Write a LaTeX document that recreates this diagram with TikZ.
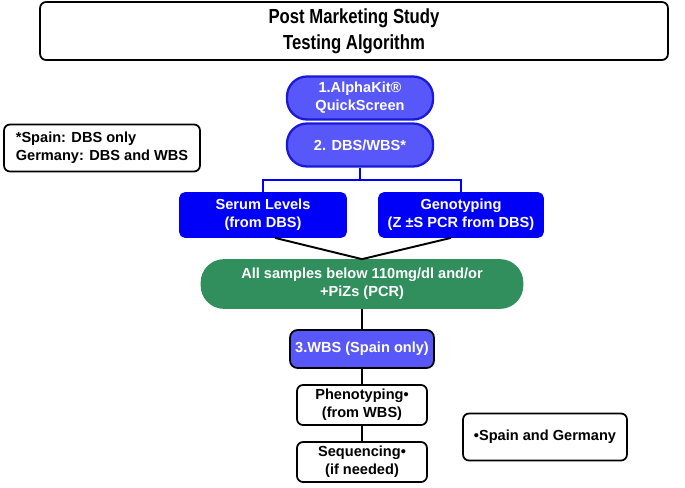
\documentclass[tikz,border=0pt]{standalone}
\usepackage{fontspec}
\setmainfont{Liberation Sans}
\newfontfamily\narrowfont[FakeStretch=0.82]{Liberation Sans}
\usepackage{xcolor}
\usetikzlibrary{calc}

\definecolor{kitblue}{RGB}{88,88,250}
\definecolor{kitedge}{RGB}{25,25,215}
\definecolor{testblue}{RGB}{0,0,250}
\definecolor{poolgreen}{RGB}{48,143,92}

\begin{document}
\begin{tikzpicture}[x=0.02cm, y=-0.02cm, line width=1pt,
    font=\fontsize{8.3}{10.2}\selectfont\bfseries]

  \tikzset{kit/.style={draw=kitedge, fill=kitblue, text=white, rounded corners=0.4cm,
                       minimum width=2.92cm, minimum height=0.86cm, align=center, inner sep=1pt,
                       line width=1.3pt},
           test/.style={draw=testblue, fill=testblue, text=white, rounded corners=0.1cm,
                        minimum width=3.32cm, minimum height=0.88cm, align=center, inner sep=1pt},
           note/.style={draw, fill=white, rounded corners=0.12cm, align=center, inner sep=1pt},
           link/.style={draw=testblue, line width=1.1pt},
           joinline/.style={draw, line width=1.1pt}}

  \useasboundingbox (0,0) rectangle (685,487);

  % heading
  \node[note, minimum width=12.56cm, minimum height=1.16cm,
        font=\narrowfont\fontsize{11.6}{15}\selectfont\bfseries] (title) at (354,31)
    {Post Marketing Study\\Testing Algorithm};

  % screening
  \node[kit] (quick) at (360,98) {1.AlphaKit®\\QuickScreen};
  \node[kit] (dbs) at (360,145) {2. DBS/WBS*};
  \node[note, align=left, minimum width=3.92cm, minimum height=0.94cm] (cntry) at (102,148)
    {*Spain: DBS only\\Germany: DBS and WBS};

  % tests from DBS
  \node[test] (serum) at (263,215) {Serum Levels\\(from DBS)};
  \node[test, minimum width=3.28cm] (geno) at (461,215) {Genotyping\\(Z ±S PCR from DBS)};
  \coordinate (split) at (360,180);
  \draw[link] (dbs.south) -- (split);
  \draw[link] (serum.north) |- (split) -| (geno.north);

  % pooled result
  \node[draw=poolgreen, fill=poolgreen, text=white, rounded corners=0.45cm,
        minimum width=6.42cm, minimum height=0.96cm, align=center, inner sep=1pt] (pool) at (362,284)
    {All samples below 110mg/dl and/or\\+PiZs (PCR)};
  \draw[joinline] ([xshift=0.24cm]serum.south) -- (pool.north);
  \draw[joinline] ([xshift=-0.2cm]geno.south) -- (pool.north);

  % follow-up
  \node[draw, fill=kitblue, text=white, rounded corners=0.15cm, minimum width=2.88cm,
        minimum height=0.76cm, inner sep=1pt] (wbs) at (362,349) {3.WBS (Spain only)};
  \node[note, minimum width=2.6cm, minimum height=0.8cm] (pheno) at (362,405)
    {Phenotyping•\\(from WBS)};
  \node[note, minimum width=2.6cm, minimum height=0.8cm] (seq) at (362,462)
    {Sequencing•\\(if needed)};
  \node[note, minimum width=3.28cm, minimum height=0.94cm] (both) at (545,437)
    {•Spain and Germany};

  \draw[joinline] (pool.south) -- (wbs.north);
  \draw[joinline] (wbs.south) -- (pheno.north);
  \draw[joinline] (pheno.south) -- (seq.north);

\end{tikzpicture}
\end{document}
